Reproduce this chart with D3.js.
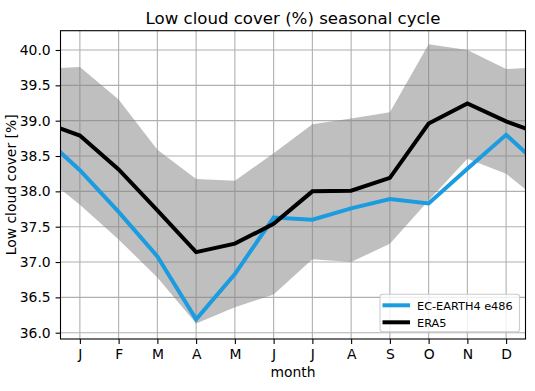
<!DOCTYPE html>
<html>
<head>
<meta charset="utf-8">
<script src="https://cdn.jsdelivr.net/npm/d3@7"></script>
<style>
  html, body { margin: 0; padding: 0; background: #ffffff; }
  svg { display: block; font-family: "DejaVu Sans", sans-serif; }
</style>
</head>
<body>
<svg id="chart" width="535" height="391"></svg>
<script>
// ---- data ----
const months = ["J", "F", "M", "A", "M", "J", "J", "A", "S", "O", "N", "D"];
const ecEarth = [38.30, 37.71, 37.08, 36.19, 36.83, 37.63, 37.60, 37.76, 37.89, 37.83, 38.32, 38.80];
const era5 = [38.79, 38.31, 37.73, 37.14, 37.26, 37.54, 38.00, 38.01, 38.19, 38.96, 39.245, 38.99];
const bandUpper = [39.76, 39.30, 38.59, 38.175, 38.15, 38.54, 38.95, 39.03, 39.12, 40.08, 40.00, 39.73];
const bandLower = [37.81, 37.32, 36.78, 36.13, 36.36, 36.54, 37.04, 37.00, 37.26, 37.87, 38.46, 38.25];
const yTicks = [36.0, 36.5, 37.0, 37.5, 38.0, 38.5, 39.0, 39.5, 40.0];
const seriesNames = ["EC-EARTH4 e486", "ERA5"];

// ---- layout ----
const W = 535, H = 391;
const L = 60.5, R = 525.5, T = 30.7, B = 339;
const svg = d3.select("#chart");

// cyclic wrap: December before January, January after December
function wrap(arr) {
  const out = [{ m: 0, v: arr[11] }];
  arr.forEach((v, i) => out.push({ m: i + 1, v }));
  out.push({ m: 13, v: arr[0] });
  return out;
}

const x = d3.scaleLinear().domain([0.5, 12.5]).range([L, R]);
const y = d3.scaleLinear().domain([35.911, 40.273]).range([B, T]);

svg.append("defs").append("clipPath").attr("id", "clip")
  .append("rect").attr("x", L).attr("y", T).attr("width", R - L).attr("height", B - T);

// grid
const grid = svg.append("g");
d3.range(1, 13).forEach(m => {
  grid.append("line").attr("x1", x(m)).attr("x2", x(m)).attr("y1", T).attr("y2", B)
    .attr("stroke", "#b0b0b0").attr("stroke-width", 1.1);
});
yTicks.forEach(t => {
  grid.append("line").attr("x1", L).attr("x2", R).attr("y1", y(t)).attr("y2", y(t))
    .attr("stroke", "#b0b0b0").attr("stroke-width", 1.1);
});

const plot = svg.append("g").attr("clip-path", "url(#clip)");

// band
const up = wrap(bandUpper), lo = wrap(bandLower);
const bandData = up.map((d, i) => ({ m: d.m, hi: d.v, lo: lo[i].v }));
plot.append("path").datum(bandData)
  .attr("d", d3.area().x(d => x(d.m)).y0(d => y(d.lo)).y1(d => y(d.hi)))
  .attr("fill", "#808080").attr("fill-opacity", 0.5);

// lines
const line = d3.line().x(d => x(d.m)).y(d => y(d.v));
const colors = ["#1b9be0", "#000000"];
[ecEarth, era5].forEach((s, i) => {
  plot.append("path").datum(wrap(s)).attr("d", line)
    .attr("fill", "none").attr("stroke", colors[i]).attr("stroke-width", 4)
    .attr("stroke-linejoin", "miter").attr("stroke-linecap", "butt");
});

// axes
const xAxis = svg.append("g").attr("transform", `translate(0,${B})`)
  .call(d3.axisBottom(x).tickValues(d3.range(1, 13)).tickFormat(d => months[d - 1])
    .tickSize(4.9).tickPadding(4.9));
const yAxis = svg.append("g").attr("transform", `translate(${L},0)`)
  .call(d3.axisLeft(y).tickValues(yTicks).tickFormat(d3.format(".1f"))
    .tickSize(4.9).tickPadding(4.9));
[xAxis, yAxis].forEach(a => {
  a.select(".domain").remove();
  a.selectAll("line").attr("stroke", "#000").attr("stroke-width", 1.1);
  a.selectAll("text").attr("fill", "#000").attr("font-size", "13.9px")
    .attr("font-family", "DejaVu Sans, sans-serif");
});

// frame
svg.append("rect").attr("x", L).attr("y", T).attr("width", R - L).attr("height", B - T)
  .attr("fill", "none").attr("stroke", "#000").attr("stroke-width", 1.1);

// title and labels
svg.append("text").attr("x", (L + R) / 2).attr("y", 24).attr("text-anchor", "middle")
  .attr("font-size", "16.6px").attr("fill", "#000").text("Low cloud cover (%) seasonal cycle");
svg.append("text").attr("x", (L + R) / 2).attr("y", 377.3).attr("text-anchor", "middle")
  .attr("font-size", "13.9px").attr("fill", "#000").text("month");
svg.append("text").attr("transform", `translate(15.5,${(T + B) / 2}) rotate(-90)`)
  .attr("text-anchor", "middle").attr("font-size", "13.9px").attr("fill", "#000")
  .text("Low cloud cover [%]");

// legend
const lg = svg.append("g");
lg.append("rect").attr("x", 380).attr("y", 294.3).attr("width", 139.5).attr("height", 37.4)
  .attr("rx", 2.5).attr("fill", "#fff").attr("fill-opacity", 0.8)
  .attr("stroke", "#cccccc").attr("stroke-width", 1.1);
seriesNames.forEach((name, i) => {
  const yy = 305.3 + i * 17;
  lg.append("line").attr("x1", 382.5).attr("x2", 410).attr("y1", yy).attr("y2", yy)
    .attr("stroke", colors[i]).attr("stroke-width", 4);
  lg.append("text").attr("x", 417).attr("y", yy + 4.4).attr("font-size", "11.3px")
    .attr("fill", "#000").text(name);
});
</script>
</body>
</html>
